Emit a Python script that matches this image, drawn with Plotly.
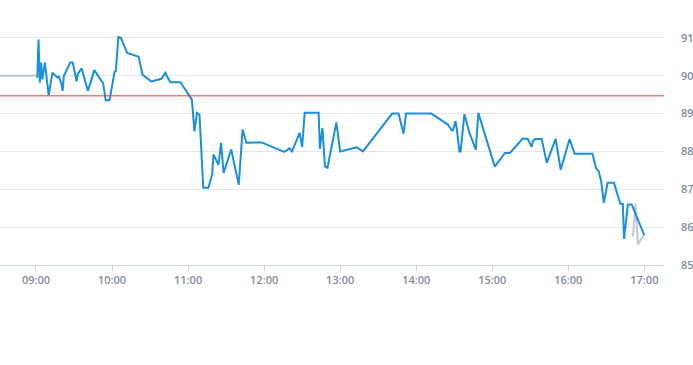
import plotly.graph_objects as go

DAY = "2024-01-02 "

# main (blue) series
times = ["09:01","09:02","09:03","09:04","09:05","09:07","09:10","09:13","09:17","09:18","09:20","09:21",
         "09:22","09:27","09:29","09:32","09:33","09:36","09:41","09:46","09:53","09:55","09:58","10:02",
         "10:03","10:05","10:07","10:12","10:21","10:24","10:31","10:39","10:42","10:46","10:54","11:01",
         "11:03","11:05","11:07","11:09","11:12","11:16","11:19","11:20","11:24","11:26","11:28","11:34",
         "11:40","11:43","11:46","11:58","12:16","12:20","12:22","12:28","12:30","12:32","12:43","12:44",
         "12:46","12:48","12:50","12:57","13:00","13:13","13:18","13:41","13:46","13:50","13:52","14:12",
         "14:25","14:28","14:29","14:31","14:32","14:34","14:35","14:38","14:42","14:47","14:49","15:02",
         "15:10","15:14","15:24","15:28","15:31","15:32","15:34","15:39","15:43","15:50","15:54","16:01",
         "16:05","16:19","16:22","16:24","16:26","16:28","16:31","16:36","16:41","16:43","16:44","16:47",
         "16:50","17:00"]
values = [89.95,90.96,89.82,90.35,89.9,90.35,89.48,90.08,89.95,89.98,89.8,89.6,
          90.0,90.35,90.35,89.85,90.05,90.2,89.6,90.15,89.8,89.35,89.35,90.1,
          90.12,91.02,91.0,90.6,90.5,90.03,89.85,89.92,90.08,89.83,89.83,89.46,
          89.37,88.53,89.02,88.97,87.04,87.04,87.39,87.92,87.65,88.23,87.43,88.05,
          87.12,88.58,88.23,88.24,87.99,88.08,88.0,88.49,88.12,89.02,89.02,88.07,
          88.62,87.6,87.57,88.77,88.0,88.11,88.0,89.0,89.0,88.47,89.0,89.0,
          88.71,88.56,88.56,88.8,88.6,88.0,88.0,88.98,88.49,88.05,89.02,87.6,
          87.96,87.96,88.34,88.33,88.12,88.27,88.33,88.33,87.7,88.33,87.52,88.33,
          87.94,87.94,87.55,87.48,87.2,86.64,87.17,87.17,86.62,86.62,85.69,86.6,
          86.6,85.78]

# grey pre-open series
pre_times = ["08:30","09:01"]
pre_values = [90.0,90.0]

# grey post series
post_times = ["16:51","16:53","16:55","16:58","17:00"]
post_values = [85.75,86.62,85.54,85.72,85.75]

ref_value = 89.47

y_ticks = [85,86,87,88,89,90,91]
y_labels = ["85","86","87","88","89","90","91"]
x_ticks = ["09:00","10:00","11:00","12:00","13:00","14:00","15:00","16:00","17:00"]

def ts(lst):
    return [DAY + t for t in lst]

fig = go.Figure()
fig.add_trace(go.Scatter(x=ts(pre_times), y=pre_values, mode="lines",
                         line=dict(color="#b9c3cc", width=2), hoverinfo="skip"))
fig.add_trace(go.Scatter(x=ts(post_times), y=post_values, mode="lines",
                         line=dict(color="#c2c8ce", width=2), hoverinfo="skip"))
fig.add_trace(go.Scatter(x=ts(times), y=values, mode="lines",
                         line=dict(color="#1a8fdd", width=2)))

fig.add_shape(type="line", xref="paper", x0=0, x1=1, yref="y", y0=ref_value, y1=ref_value,
              line=dict(color="#d9403a", width=1))

fig.update_layout(
    width=693, height=365,
    margin=dict(l=0, r=29, t=19, b=100, pad=0, autoexpand=False),
    paper_bgcolor="white", plot_bgcolor="white",
    showlegend=False,
    font=dict(family="Open Sans, Liberation Sans, sans-serif", color="#8a96a3", size=11),
)
fig.update_xaxes(
    type="date",
    range=[DAY + "08:31:36", DAY + "17:15:30"],
    tickvals=ts(x_ticks), ticktext=x_ticks,
    showgrid=False, showline=True, linecolor="#ccd6e0", linewidth=1,
    ticks="outside", ticklen=5, tickcolor="#ccd6e0",
    tickfont=dict(size=11, color="#7f8c99", weight=600),
    zeroline=False, automargin=False,
)
fig.update_yaxes(
    range=[85, 91.5], side="right",
    tickvals=y_ticks, ticktext=y_labels,
    showgrid=True, gridcolor="#e6e6e6", gridwidth=1,
    showline=False, zeroline=False, ticks="",
    ticklabelstandoff=16, automargin=False,
    tickfont=dict(size=11, color="#7f8c99", weight=600),
)

fig.write_html("out.html", config={"displayModeBar": False},
               post_script="document.body.style.margin='0';document.body.style.overflow='hidden';")
